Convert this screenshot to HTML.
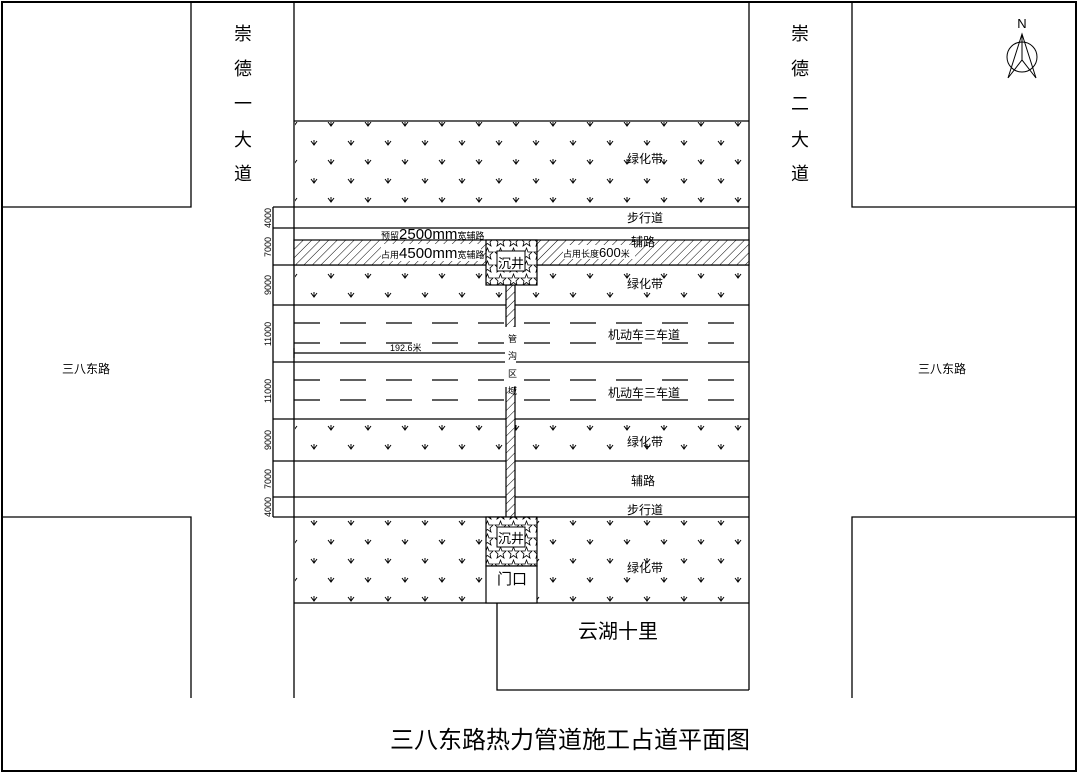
<!DOCTYPE html>
<html><head><meta charset="utf-8"><style>
html,body{margin:0;padding:0;background:#fff}
svg{display:block}
text{font-family:"Liberation Sans","Noto Sans CJK SC",sans-serif;fill:#000}
</style></head><body>
<svg width="1079" height="773" viewBox="0 0 1079 773" xmlns="http://www.w3.org/2000/svg">
<defs>
<pattern id="g" x="294" y="121" width="37" height="38" patternUnits="userSpaceOnUse">
<path d="M-3,1 L0,5 L3,1 M0,0 L0,5 M34,1 L37,5 L40,1 M37,0 L37,5 M17,20 L20,24 L23,20 M20,19 L20,24" stroke="#000" stroke-width="1" fill="none"/>
</pattern>
<pattern id="h" width="6" height="6" patternUnits="userSpaceOnUse" patternTransform="rotate(45)">
<rect width="6" height="6" fill="#fff"/><line x1="0" y1="0" x2="0" y2="6" stroke="#000" stroke-width="1"/>
</pattern>
<pattern id="s" width="13" height="13" patternUnits="userSpaceOnUse">
<rect width="13" height="13" fill="#fff"/>
<path d="M6.5,1 L8,5 L12,5 L9,8 L10,12 L6.5,9.5 L3,12 L4,8 L1,5 L5,5 Z" stroke="#000" stroke-width="0.8" fill="none"/>
</pattern>
</defs>
<rect x="2" y="2" width="1074" height="769" fill="none" stroke="#000" stroke-width="2"/>
<g stroke="#000" stroke-width="1.3" fill="none">
<polyline points="191,2 191,207 2,207"/>
<polyline points="2,517 191,517 191,698"/>
<polyline points="852,2 852,207 1076,207"/>
<polyline points="1076,517 852,517 852,698"/>
<line x1="294" y1="2" x2="294" y2="698"/>
<line x1="749" y1="2" x2="749" y2="690"/>
<line x1="294" y1="121" x2="749" y2="121"/>
<line x1="273" y1="207" x2="749" y2="207"/>
<line x1="273" y1="228" x2="749" y2="228"/>
<line x1="273" y1="265" x2="749" y2="265"/>
<line x1="273" y1="305" x2="749" y2="305"/>
<line x1="273" y1="362" x2="749" y2="362"/>
<line x1="273" y1="419" x2="749" y2="419"/>
<line x1="273" y1="461" x2="749" y2="461"/>
<line x1="273" y1="497" x2="749" y2="497"/>
<line x1="273" y1="517" x2="749" y2="517"/>
<line x1="273" y1="207" x2="273" y2="517"/>
<line x1="294" y1="603" x2="749" y2="603"/>
<polyline points="497,603 497,690 749,690"/>
</g>
<rect x="295" y="122" width="453" height="84" fill="url(#g)"/>
<rect x="295" y="266" width="453" height="38" fill="url(#g)"/>
<rect x="295" y="420" width="453" height="40" fill="url(#g)"/>
<rect x="295" y="518" width="453" height="84" fill="url(#g)"/>
<g stroke="#000" stroke-width="1.2">
<line x1="294" y1="323" x2="749" y2="323" stroke-dasharray="26,20"/>
<line x1="294" y1="343" x2="749" y2="343" stroke-dasharray="26,20"/>
<line x1="294" y1="380" x2="749" y2="380" stroke-dasharray="26,20"/>
<line x1="294" y1="400" x2="749" y2="400" stroke-dasharray="26,20"/>
<line x1="294" y1="353" x2="505" y2="353"/>
<line x1="294" y1="348" x2="294" y2="358"/>
</g>
<rect x="294" y="240" width="455" height="25" fill="url(#h)" stroke="#000" stroke-width="1.2"/>
<rect x="381" y="244" width="100" height="17" fill="#fff"/>
<rect x="563" y="245" width="72" height="14" fill="#fff"/>
<rect x="506" y="285" width="9" height="232" fill="url(#h)" stroke="#000" stroke-width="1.2"/>
<rect x="505" y="327" width="11" height="60" fill="#fff"/>
<rect x="486" y="240" width="51" height="45" fill="url(#s)" stroke="#000" stroke-width="1.2"/>
<rect x="497" y="251" width="28" height="20" fill="#fff" stroke="#000"/>
<rect x="486" y="517" width="51" height="49" fill="url(#s)" stroke="#000" stroke-width="1.2"/>
<rect x="497" y="527" width="28" height="20" fill="#fff" stroke="#000"/>
<rect x="486" y="566" width="51" height="37" fill="#fff" stroke="#000" stroke-width="1.2"/>
<g font-size="12">
<text x="627" y="163">绿化带</text>
<text x="627" y="222">步行道</text>
<text x="631" y="246">辅路</text>
<text x="627" y="288">绿化带</text>
<text x="608" y="339">机动车三车道</text>
<text x="608" y="397">机动车三车道</text>
<text x="627" y="446">绿化带</text>
<text x="631" y="485">辅路</text>
<text x="627" y="514">步行道</text>
<text x="627" y="572">绿化带</text>
<text x="62" y="373">三八东路</text>
<text x="918" y="373">三八东路</text>
<text x="498" y="268" font-size="13">沉井</text>
<text x="498" y="543" font-size="13">沉井</text>
<text x="497" y="584" font-size="15">门口</text>
</g>
<g font-size="9">
<text x="381" y="239">预留<tspan font-size="15">2500mm</tspan>宽辅路</text>
<text x="381" y="258">占用<tspan font-size="15">4500mm</tspan>宽辅路</text>
<text x="563" y="257">占用长度<tspan font-size="13">600</tspan>米</text>
<text x="390" y="351">192.6米</text>
<text x="508" y="342">管</text>
<text x="508" y="359">沟</text>
<text x="508" y="377">区</text>
<text x="508" y="394">域</text>
</g>
<g font-size="9">
<text transform="translate(271,218) rotate(-90)" text-anchor="middle">4000</text>
<text transform="translate(271,247) rotate(-90)" text-anchor="middle">7000</text>
<text transform="translate(271,285) rotate(-90)" text-anchor="middle">9000</text>
<text transform="translate(271,334) rotate(-90)" text-anchor="middle">11000</text>
<text transform="translate(271,391) rotate(-90)" text-anchor="middle">11000</text>
<text transform="translate(271,440) rotate(-90)" text-anchor="middle">9000</text>
<text transform="translate(271,479) rotate(-90)" text-anchor="middle">7000</text>
<text transform="translate(271,507) rotate(-90)" text-anchor="middle">4000</text>
</g>
<g font-size="18" text-anchor="middle">
<text x="243" y="40">崇</text><text x="243" y="75">德</text><text x="243" y="110">一</text><text x="243" y="146">大</text><text x="243" y="180">道</text>
<text x="800" y="40">崇</text><text x="800" y="75">德</text><text x="800" y="110">二</text><text x="800" y="146">大</text><text x="800" y="180">道</text>
</g>
<text x="618" y="638" font-size="20" text-anchor="middle">云湖十里</text>
<text x="570" y="748" font-size="24" text-anchor="middle">三八东路热力管道施工占道平面图</text>
<text x="1022" y="28" font-size="13" text-anchor="middle">N</text>
<g stroke="#000" stroke-width="1" fill="none">
<circle cx="1022" cy="57" r="15"/>
<polyline points="1008,78 1022,34 1036,78 1022,60 1008,78"/>
<line x1="1022" y1="34" x2="1022" y2="60"/>
</g>
</svg>
</body></html>
